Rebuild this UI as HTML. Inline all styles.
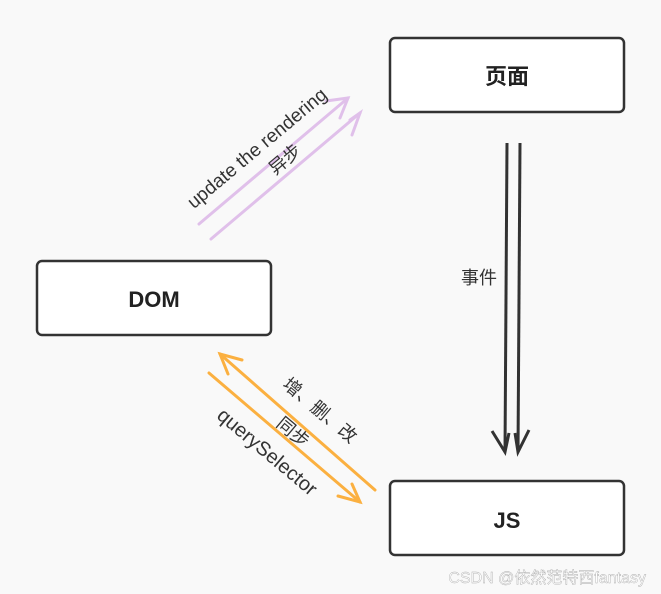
<!DOCTYPE html>
<html><head><meta charset="utf-8"><style>
html,body{margin:0;padding:0;background:#f9f9f9;}
svg{display:block;}
text{font-family:"Liberation Sans","Noto Sans CJK SC",sans-serif;}
</style></head><body>
<svg width="661" height="594" viewBox="0 0 661 594" xmlns="http://www.w3.org/2000/svg">
<rect width="661" height="594" fill="#f9f9f9"/>
<g fill="#fff" stroke="#333" stroke-width="2.5">
<rect x="390" y="38" width="234" height="74" rx="5"/>
<rect x="37" y="261" width="234" height="74" rx="5"/>
<rect x="390" y="481" width="234" height="74" rx="5"/>
</g>
<g font-size="22" fill="#222" text-anchor="middle" font-weight="bold">
<text x="507" y="84">页面</text>
<text x="154" y="307">DOM</text>
<text x="507" y="528">JS</text>
</g>
<g stroke="#e0c0ea" stroke-width="3" fill="none" stroke-linecap="round">
<line x1="199" y1="224" x2="348" y2="98"/>
<path d="M326 101 L348 98 L340 118"/>
<line x1="211" y1="239" x2="360" y2="113"/>
<path d="M350 120 L360 113 L352 135"/>
</g>
<g stroke="#fbb040" stroke-width="3" fill="none" stroke-linecap="round">
<line x1="220" y1="354" x2="375" y2="490"/>
<path d="M242 360 L220 354 L228 374"/>
<line x1="209" y1="373" x2="360" y2="502"/>
<path d="M338 496 L360 502 L352 484"/>
</g>
<g stroke="#333" stroke-width="3" fill="none">
<line x1="507" y1="143" x2="505" y2="452"/>
<line x1="520" y1="143" x2="518" y2="452"/>
<path d="M492 431 L505 452 L509 433"/>
<path d="M529 430 L518 452 L515 433"/>
</g>
<g fill="#333" text-anchor="middle">
<text font-size="19" transform="translate(261,153) rotate(-40)">update the rendering</text>
<text font-size="18" transform="translate(289,164) rotate(-40)">异步</text>
<text font-size="18" transform="translate(316,415) rotate(40)">增、删、改</text>
<text font-size="18" transform="translate(289,437) rotate(40)">同步</text>
<text font-size="20" transform="translate(263,457) rotate(40)">querySelector</text>
<text font-size="18" x="479" y="284">事件</text>
</g>
<text x="646" y="583" font-size="16" fill="#fff" stroke="#aaa" stroke-width="0.4" text-anchor="end">CSDN @依然范特西fantasy</text>
</svg>
</body></html>
